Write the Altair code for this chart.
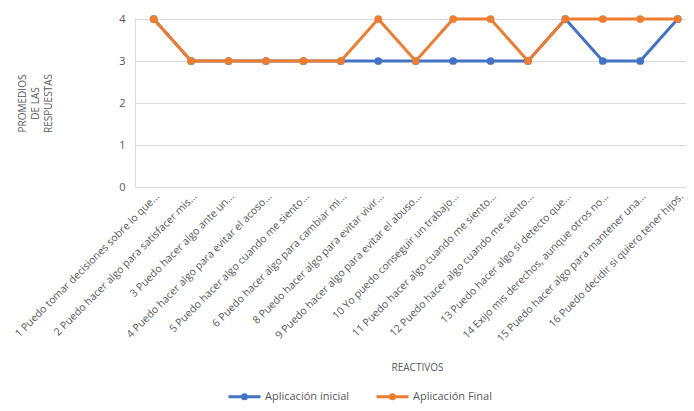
import altair as alt
import pandas as pd

reactivos = [
    "1 Puedo tomar decisiones sobre lo que...",
    "2 Puedo hacer algo para satisfacer mis...",
    "3 Puedo hacer algo ante un...",
    "4 Puedo hacer algo para evitar el acoso...",
    "5 Puedo hacer algo cuando me siento...",
    "6 Puedo hacer algo para cambiar mi...",
    "8 Puedo hacer algo para evitar vivir...",
    "9 Puedo hacer algo para evitar el abuso...",
    "10 Yo puedo conseguir un trabajo...",
    "11 Puedo hacer algo cuando me siento...",
    "12 Puedo hacer algo cuando me siento...",
    "13 Puedo hacer algo si detecto que...",
    "14 Exijo mis derechos, aunque otros no...",
    "15 Puedo hacer algo para mantener una...",
    "16 Puedo decidir si quiero tener hijos.",
]
inicial = [4, 3, 3, 3, 3, 3, 3, 3, 3, 3, 3, 4, 3, 3, 4]
final = [4, 3, 3, 3, 3, 3, 4, 3, 4, 4, 3, 4, 4, 4, 4]
series = ["Aplicación inicial", "Aplicación Final"]
colors = ["#4472C4", "#ED7D31"]

rows = []
for name, vals in zip(series, [inicial, final]):
    for i, (r, v) in enumerate(zip(reactivos, vals)):
        rows.append({"reactivo": r, "serie": name, "valor": v, "i": i})
df = pd.DataFrame(rows)

FONT = "Open Sans"
GRAY = "#595959"
W = 551
H = 168

x_enc = alt.X(
    "reactivo:N",
    sort=reactivos,
    scale=alt.Scale(type="point", padding=0.5, range=[0, 561.4]),
    axis=alt.Axis(
        title="REACTIVOS",
        labelAngle=315,
        labelFontSize=10.5,
        labelColor=GRAY,
        labelFont=FONT,
        labelPadding=4,
        labelLimit=400,
        ticks=False,
        domain=False,
        grid=False,
        titleFont=FONT,
        titleFontSize=10,
        titleFontWeight="normal",
        titleColor=GRAY,
        titleX=282,
        titleY=180,
        titleBaseline="middle",
        titleAnchor="start",
        titleAlign="center",
    ),
)
y_enc = alt.Y(
    "valor:Q",
    scale=alt.Scale(domain=[0, 4], nice=False),
    axis=alt.Axis(
        title=["PROMEDIOS", "DE LAS", "RESPUESTAS"],
        values=[0, 1, 2, 3, 4],
        format="d",
        labelFontSize=11,
        labelColor=GRAY,
        labelFont=FONT,
        labelPadding=10,
        ticks=False,
        domain=False,
        gridColor="#D9D9D9",
        gridWidth=1,
        titleFont=FONT,
        titleFontSize=10,
        titleFontWeight="normal",
        titleColor=GRAY,
        titleAngle=270,
        titleX=-113,
        titleY=84,
        titleAlign="center",
        titleBaseline="middle",
        titleLineHeight=13,
        titleAnchor="start",
    ),
)
color_enc = alt.Color(
    "serie:N",
    scale=alt.Scale(domain=series, range=colors),
    sort=series,
    legend=alt.Legend(
        title=None,
        orient="none",
        direction="horizontal",
        legendX=92,
        legendY=360,
        labelFont=FONT,
        labelFontSize=11,
        labelColor=GRAY,
        labelOffset=3,
        columnPadding=20,
        symbolType="M-1,0L1,0M0.125,0A0.125,0.125 0 1 1 -0.125,0A0.125,0.125 0 1 1 0.125,0",
        symbolSize=1024,
        symbolStrokeWidth=3,
    ),
)

layers = []
for name in series:
    sub = df[df["serie"] == name]
    base = alt.Chart(sub).encode(x=x_enc, y=y_enc, color=color_enc)
    layers.append(base.mark_line(strokeWidth=3))
    layers.append(base.mark_point(filled=True, size=60, opacity=1))

chart = alt.layer(*layers).properties(
    width=W,
    height=H,
    autosize=alt.AutoSizeParams(type="none"),
    padding={"left": 127, "top": 11, "right": 0, "bottom": 216},
).configure_view(stroke=None).configure(background="white")

chart.save("out.html", embed_options={"renderer": "svg", "actions": False})
